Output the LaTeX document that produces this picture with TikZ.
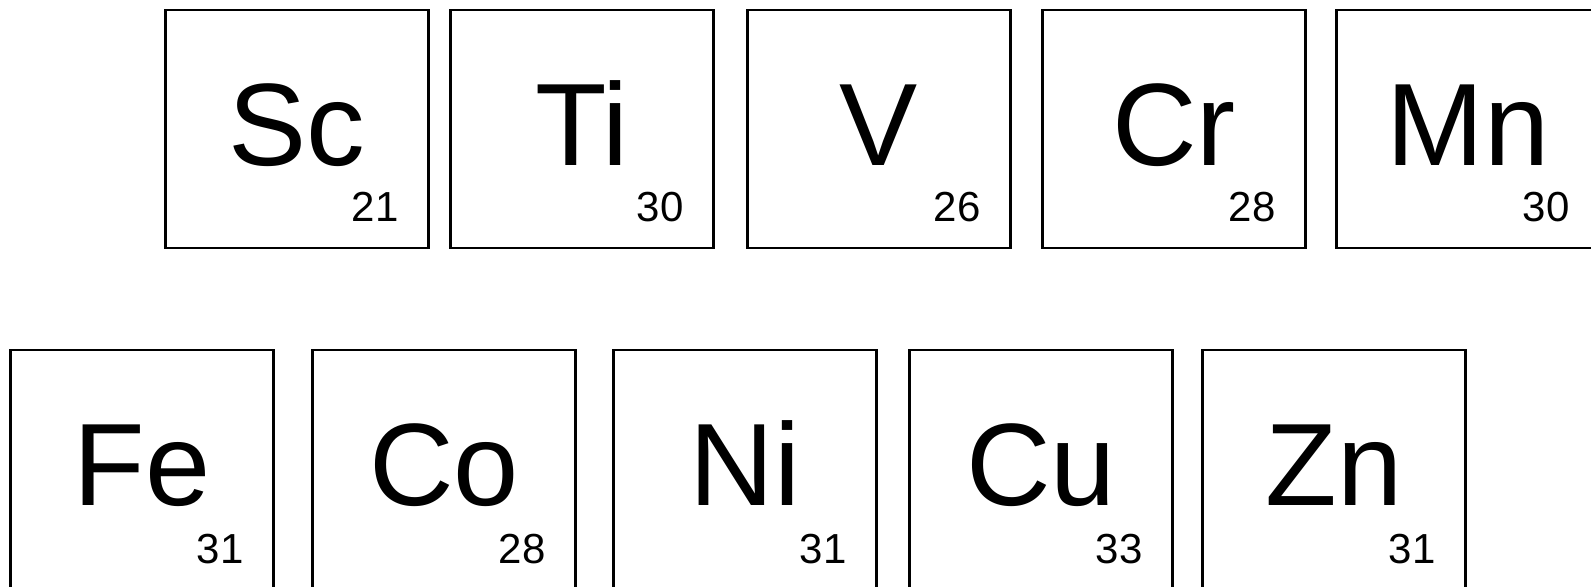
\documentclass[tikz,border=0pt]{standalone}
\usepackage{fontspec}
\setmainfont{Liberation Sans}
\usepackage{tikz}
\usetikzlibrary{calc}

\begin{document}
\begin{tikzpicture}[x=0.5pt,y=-0.5pt,
    elembox/.style={draw, line width=1.4pt, minimum width=131.5pt, minimum height=119pt, inner sep=0pt},
    symb/.style={font=\fontsize{58.6}{60}\selectfont, anchor=base, inner sep=0pt},
    anum/.style={font=\fontsize{21}{22}\selectfont, anchor=base east, inner sep=0pt}]
    \useasboundingbox (0,0) rectangle (1591,586);
    \fill[white] (0,0) rectangle (1591,586);

    % first row
    \foreach \name/\sym/\num/\cx in {sc/Sc/21/297, ti/Ti/30/582, v/V/26/879, cr/Cr/28/1174, mn/Mn/30/1468}{
        \node[elembox] (\name) at (\cx,129) {};
        \node[symb] (\name-sym) at ($(\name.north)+(0,157)$) {\sym};
        \node[anum] (\name-num) at ($(\name.south east)+(-31,-28)$) {\num};
    }

    % second row
    \foreach \name/\sym/\num/\cx in {fe/Fe/31/142, co/Co/28/444, ni/Ni/31/745, cu/Cu/33/1041, zn/Zn/31/1334}{
        \node[elembox] (\name) at (\cx,469) {};
        \node[symb] (\name-sym) at ($(\name.north)+(0,157)$) {\sym};
        \node[anum] (\name-num) at ($(\name.south east)+(-31,-26)$) {\num};
    }

\end{tikzpicture}
\end{document}
